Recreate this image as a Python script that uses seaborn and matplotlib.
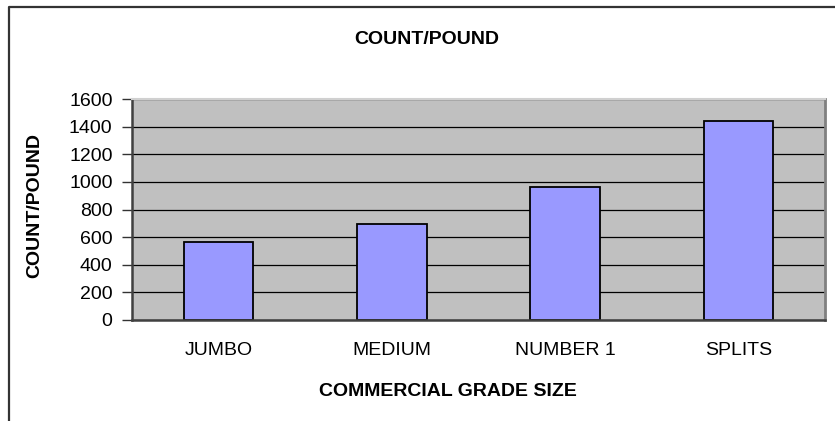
"""Bar chart: count per pound by commercial grade size."""

import matplotlib

matplotlib.use("Agg")
import matplotlib.pyplot as plt
from matplotlib.lines import Line2D
import seaborn as sns

grades = ["JUMBO", "MEDIUM", "NUMBER 1", "SPLITS"]
count_per_pound = [565, 692, 962, 1442]
y_ticks = [0, 200, 400, 600, 800, 1000, 1200, 1400, 1600]

sns.set_style("white")
plt.rcParams["font.family"] = ["Liberation Sans", "DejaVu Sans"]
plt.rcParams["text.color"] = "black"

W, H = 835, 421
fig = plt.figure(figsize=(W / 100, H / 100), dpi=100)
ax = fig.add_axes([132 / W, 1 - 320 / H, 693 / W, 221 / H])
ax.set_facecolor("#C0C0C0")

sns.barplot(x=grades, y=count_per_pound, color="#9999FF", edgecolor="black",
            linewidth=1.3, width=0.4, saturation=1, ax=ax)

ax.set_xlim(-0.5, len(grades) - 0.5)
ax.set_ylim(0, 1600)
ax.set_yticks(y_ticks)
ax.set_yticklabels([str(v) for v in y_ticks], fontsize=14, color="black")
ax.yaxis.grid(True, color="black", linewidth=0.9)
ax.set_axisbelow(True)

# category labels at centres, tick marks at category boundaries
ax.set_xticks(range(len(grades)))
ax.set_xticklabels(grades, fontsize=14, color="black")
ax.set_xticks([i - 0.5 for i in range(len(grades) + 1)], minor=True)
ax.tick_params(axis="x", which="major", length=0, pad=16)
ax.tick_params(axis="x", which="minor", length=7, width=1, color="#333333", direction="out")
ax.tick_params(axis="y", length=7, width=1, color="#333333", direction="out", pad=7, left=True)

for side in ["left", "bottom"]:
    ax.spines[side].set_color("#404040")
    ax.spines[side].set_linewidth(1.8)
ax.spines["right"].set_color("#808080")
ax.spines["right"].set_linewidth(2)
ax.spines["top"].set_color("#D0D0D0")
ax.spines["top"].set_linewidth(1.5)

ax.set_xlabel("")
ax.set_ylabel("")
fig.text(427 / W, 1 - 40 / H, "COUNT/POUND", fontsize=14, fontweight="bold",
         ha="center", va="center", color="black")
fig.text(448 / W, 1 - 392 / H, "COMMERCIAL GRADE SIZE", fontsize=14,
         fontweight="bold", ha="center", va="center", color="black")
fig.text(35 / W, 1 - 205 / H, "COUNT/POUND", fontsize=14, fontweight="bold",
         rotation=90, ha="center", va="center", color="black")

# chart-area frame, cut at the right and bottom edges
fig.add_artist(Line2D([8.5 / W, 8.5 / W, 1.0], [0.0, 1 - 6.5 / H, 1 - 6.5 / H],
                      transform=fig.transFigure, color="#333333", linewidth=1.6))

fig.savefig("out.png", dpi=100)
